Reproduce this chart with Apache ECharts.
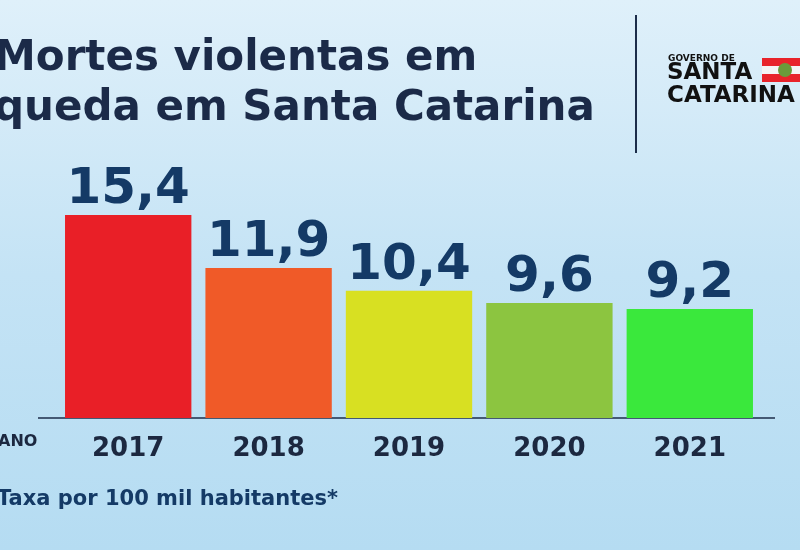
<!DOCTYPE html><html><head><meta charset="utf-8"><script src="https://cdn.jsdelivr.net/npm/echarts@6/dist/echarts.min.js"></script>
<style>html,body{margin:0;padding:0}#c{width:800px;height:550px}</style></head><body><div id="c"></div><script>
const categories=['2017','2018','2019','2020','2021'];
const values=[15.4,11.9,10.4,9.6,9.2];
const labels=['15,4','11,9','10,4','9,6','9,2'];
const colors=['#e91f27','#f05a28','#d8e022','#8cc540','#3ae83c'];
const chart=echarts.init(document.getElementById('c'));
const F='"DejaVu Sans", sans-serif';
chart.setOption({
 backgroundColor:{type:'linear',x:0,y:0,x2:0,y2:1,colorStops:[{offset:0,color:'#dff0fa'},{offset:0.5,color:'#c4e3f5'},{offset:1,color:'#b5dcf2'}]},
 grid:{left:58,right:40,top:206,bottom:132},
 xAxis:{type:'category',data:categories,axisLine:{show:false},axisTick:{show:false},
  axisLabel:{color:'#1c2840',fontSize:26,fontWeight:'bold',fontFamily:F,margin:18}},
 yAxis:{type:'value',min:2,max:16,show:false},
 series:[{type:'bar',barCategoryGap:'10%',data:values.map((v,i)=>({value:v,itemStyle:{color:colors[i]}})),
  label:{show:true,position:'top',distance:0,formatter:p=>labels[p.dataIndex],color:'#143a66',fontSize:50,fontWeight:'bold',fontFamily:F}}],
 graphic:[
  {type:'line',shape:{x1:38,y1:418,x2:775,y2:418},style:{stroke:'#1c2d4a',lineWidth:1.5}},
  {type:'text',left:-6,top:34,style:{text:'Mortes violentas em\nqueda em Santa Catarina',fill:'#1b2a48',font:'bold 42px '+F,lineHeight:50}},
  {type:'text',left:-2,top:434,style:{text:'ANO',fill:'#1c2840',font:'bold 16px '+F}},
  {type:'text',left:-3,top:489,style:{text:'Taxa por 100 mil habitantes*',fill:'#143a66',font:'bold 21px '+F}},
  {type:'line',shape:{x1:636,y1:15,x2:636,y2:153},style:{stroke:'#1c2d4a',lineWidth:2}},
  {type:'text',left:668,top:54,style:{text:'GOVERNO DE',fill:'#111',font:'bold 9px '+F}},
  {type:'text',left:667,top:62,style:{text:'SANTA\nCATARINA',fill:'#111',font:'900 23px '+F,lineHeight:23}},
  {type:'rect',shape:{x:762,y:58,width:40,height:24},style:{fill:'#e8232a'}},
  {type:'rect',shape:{x:762,y:66,width:40,height:8},style:{fill:'#f4f4f4'}},
  {type:'circle',shape:{cx:785,cy:70,r:7},style:{fill:'#6a9a3a'}}
 ]
});
</script></body></html>
